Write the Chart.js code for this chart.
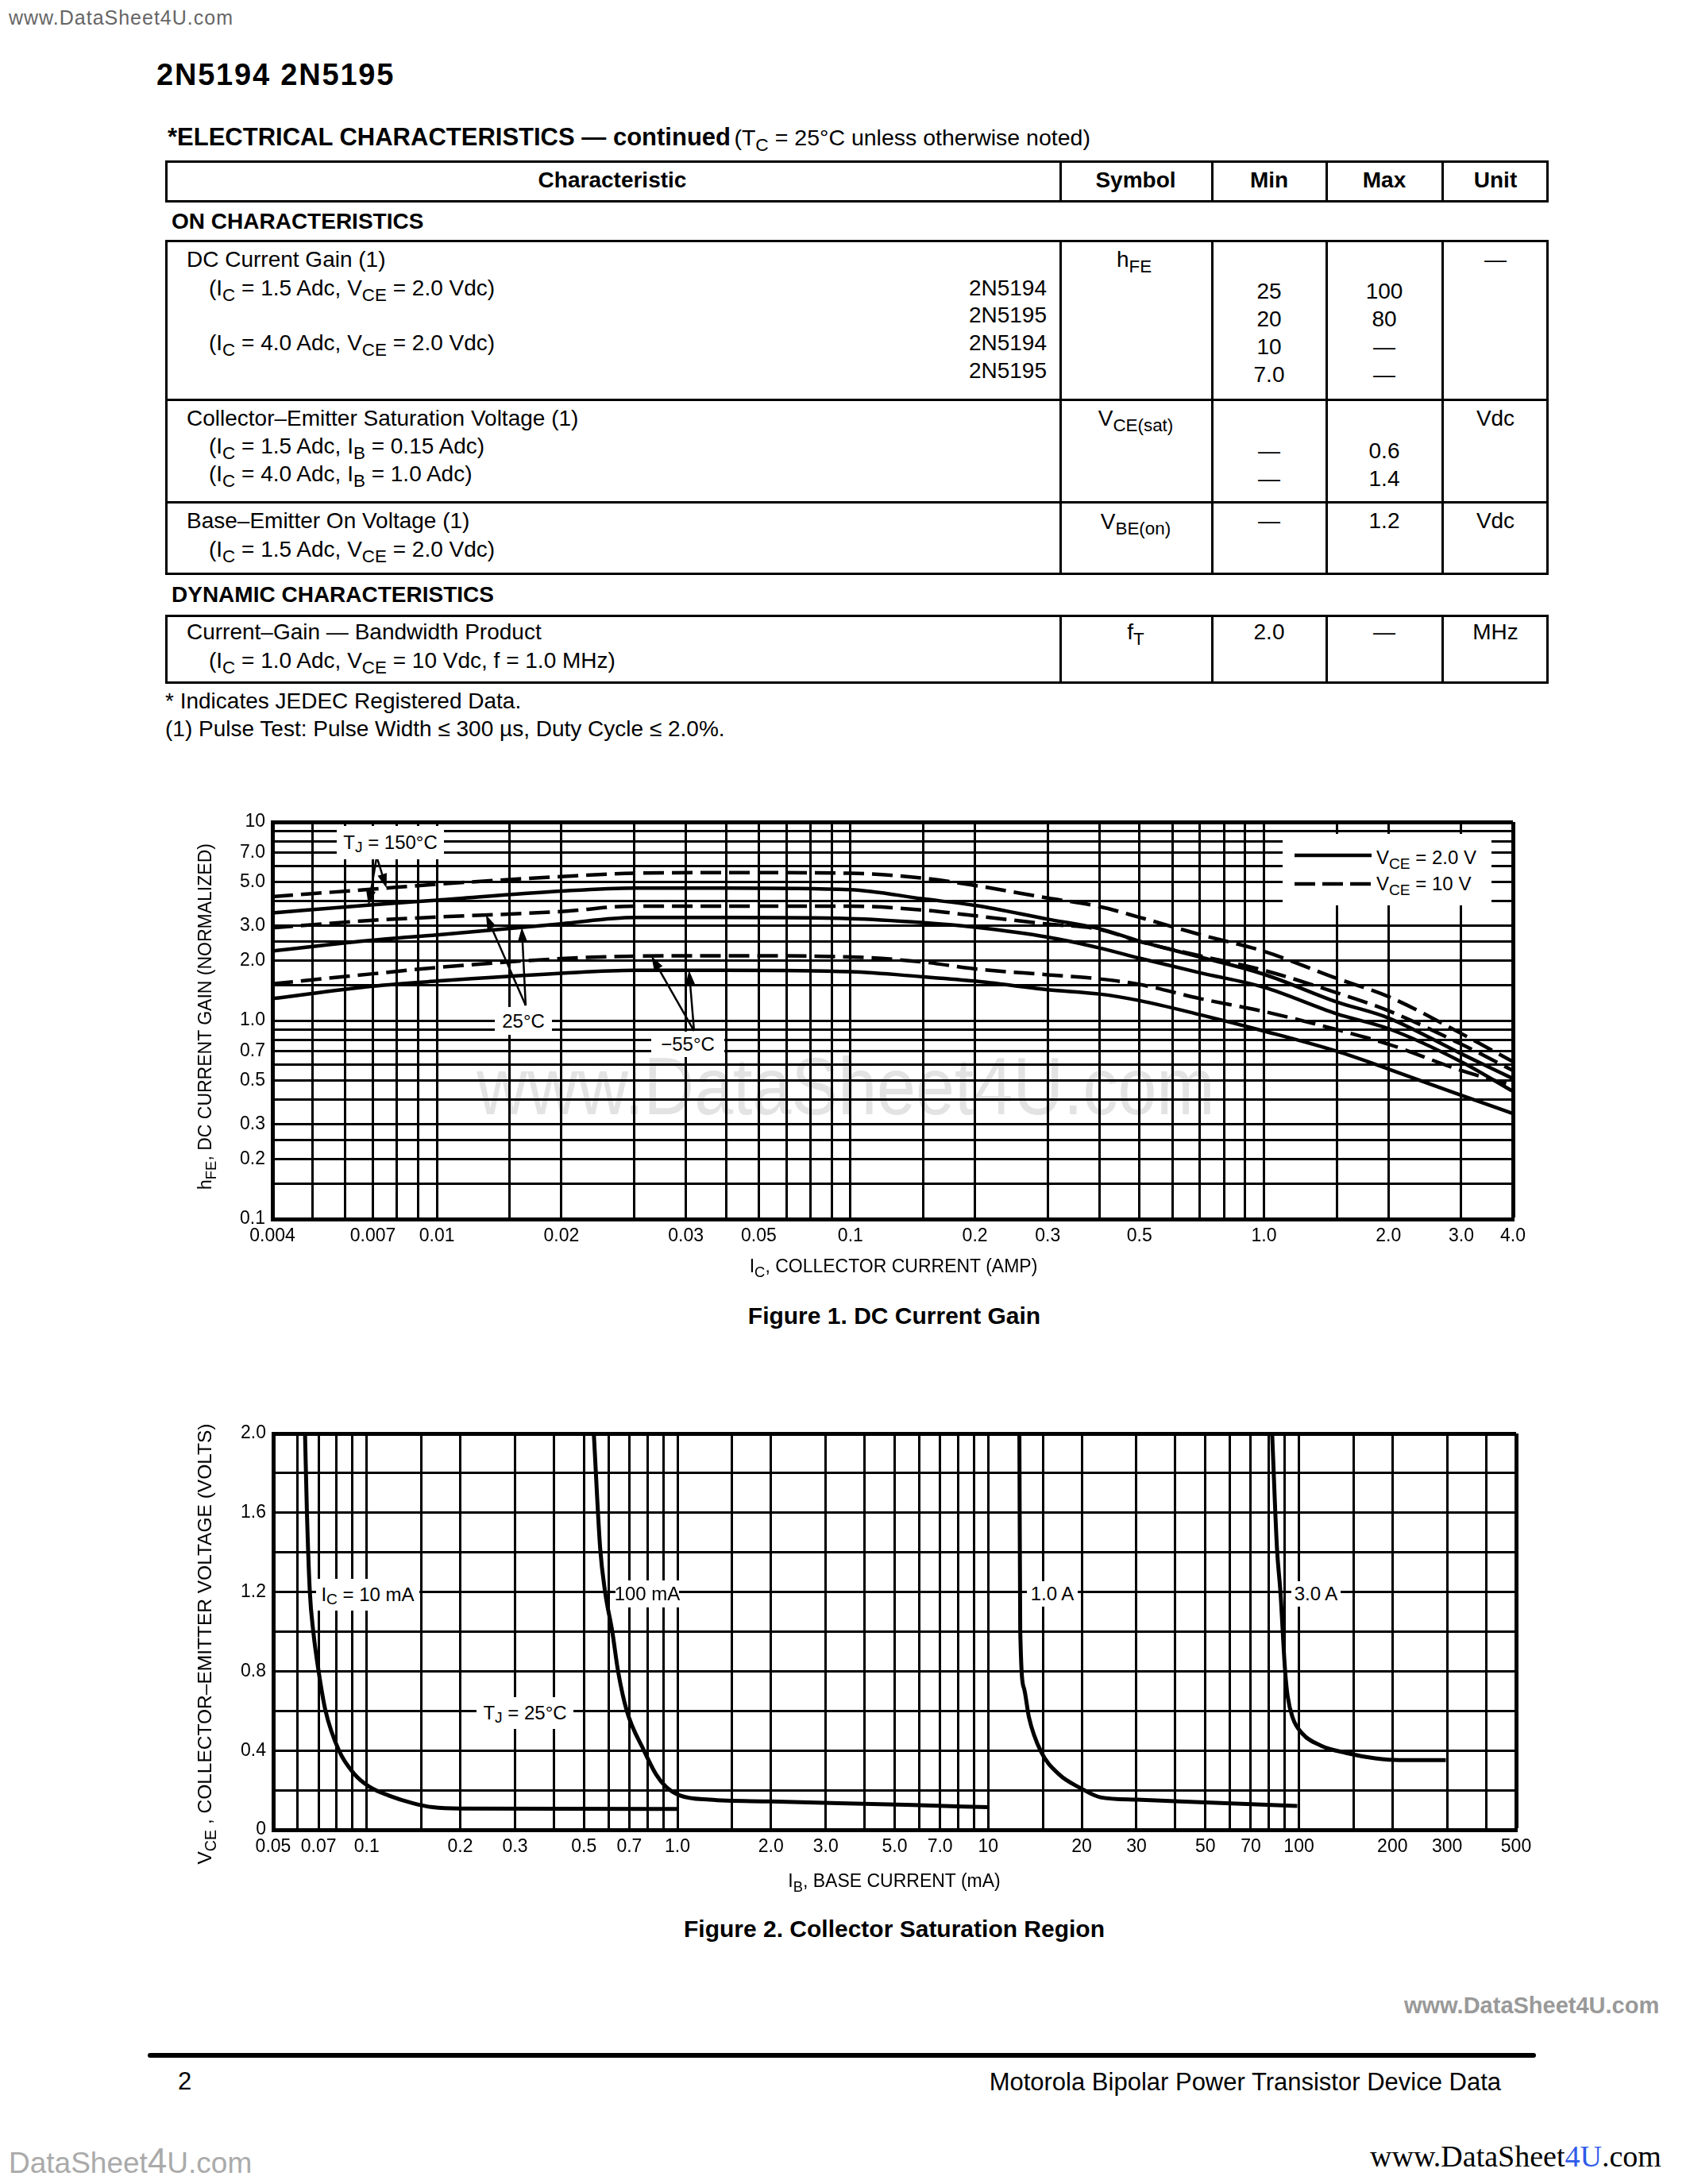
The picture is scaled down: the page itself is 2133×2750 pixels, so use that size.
<!DOCTYPE html>
<html><head><meta charset="utf-8">
<script src="https://cdn.jsdelivr.net/npm/chart.js@4.4.1/dist/chart.umd.min.js"></script>
<style>
html,body{margin:0;padding:0;background:#fff;}
#page{position:relative;width:2133px;height:2750px;overflow:hidden;background:#fff;font-family:'Liberation Sans',Arial,Helvetica,sans-serif;color:#000;}
.t{position:absolute;line-height:1;white-space:nowrap;z-index:3;}
.l{transform:translateY(-50%);}
.c{transform:translate(-50%,-50%);}
.r{transform:translate(-100%,-50%);}
sub{font-size:.8em;position:relative;top:.32em;vertical-align:baseline;line-height:0;}
.b{font-weight:bold;}
.f27{font-size:28px;}
.box{position:absolute;border:3px solid #000;box-sizing:border-box;}
.vl{position:absolute;width:3px;background:#000;}
.hl{position:absolute;height:3px;background:#000;}
canvas{position:absolute;left:0;z-index:1;}
.lab{position:absolute;background:#fff;display:flex;align-items:center;justify-content:center;font-size:24px;line-height:1;white-space:nowrap;z-index:3;}
.ax{position:absolute;font-size:23px;line-height:1;white-space:nowrap;z-index:3;}
.cap{position:absolute;font-size:30px;font-weight:bold;line-height:1;white-space:nowrap;transform:translate(-50%,-50%);z-index:3;}
</style></head>
<body>
<div id="page">
<div class="t l" style="left:11px;top:22px;font-size:25px;color:#666;letter-spacing:1px">www.DataSheet4U.com</div>
<div class="t l b" style="left:197px;top:94px;font-size:38px;letter-spacing:1.8px">2N5194 2N5195</div>
<div class="t l" style="left:211px;top:172px"><span class="b" style="font-size:31px">*ELECTRICAL CHARACTERISTICS — continued</span> <span style="font-size:28.5px">(T<sub>C</sub> = 25°C unless otherwise noted)</span></div>

<!-- table frame -->
<div class="box" style="left:208px;top:202px;width:1742px;height:53px"></div>
<div class="vl" style="left:1334px;top:202px;height:53px"></div>
<div class="vl" style="left:1525px;top:202px;height:53px"></div>
<div class="vl" style="left:1669px;top:202px;height:53px"></div>
<div class="vl" style="left:1815px;top:202px;height:53px"></div>

<div class="box" style="left:208px;top:302px;width:1742px;height:422px"></div>
<div class="hl" style="left:208px;top:502px;width:1742px"></div>
<div class="hl" style="left:208px;top:631px;width:1742px"></div>
<div class="vl" style="left:1334px;top:302px;height:422px"></div>
<div class="vl" style="left:1525px;top:302px;height:422px"></div>
<div class="vl" style="left:1669px;top:302px;height:422px"></div>
<div class="vl" style="left:1815px;top:302px;height:422px"></div>

<div class="box" style="left:208px;top:774px;width:1742px;height:87px"></div>
<div class="vl" style="left:1334px;top:774px;height:87px"></div>
<div class="vl" style="left:1525px;top:774px;height:87px"></div>
<div class="vl" style="left:1669px;top:774px;height:87px"></div>
<div class="vl" style="left:1815px;top:774px;height:87px"></div>

<!-- header -->
<div class="t c b f27" style="left:771px;top:227px">Characteristic</div>
<div class="t c b f27" style="left:1430px;top:227px">Symbol</div>
<div class="t c b f27" style="left:1598px;top:227px">Min</div>
<div class="t c b f27" style="left:1743px;top:227px">Max</div>
<div class="t c b f27" style="left:1883px;top:227px">Unit</div>

<div class="t l b f27" style="left:216px;top:279px">ON CHARACTERISTICS</div>

<div class="t l f27" style="left:235px;top:327px">DC Current Gain (1)</div>
<div class="t l f27" style="left:263px;top:363px">(I<sub>C</sub> = 1.5 Adc, V<sub>CE</sub> = 2.0 Vdc)</div>
<div class="t r f27" style="left:1318px;top:363px">2N5194</div>
<div class="t r f27" style="left:1318px;top:397px">2N5195</div>
<div class="t l f27" style="left:263px;top:432px">(I<sub>C</sub> = 4.0 Adc, V<sub>CE</sub> = 2.0 Vdc)</div>
<div class="t r f27" style="left:1318px;top:432px">2N5194</div>
<div class="t r f27" style="left:1318px;top:467px">2N5195</div>
<div class="t c f27" style="left:1428px;top:327px">h<sub>FE</sub></div>
<div class="t c f27" style="left:1598px;top:367px">25</div>
<div class="t c f27" style="left:1598px;top:402px">20</div>
<div class="t c f27" style="left:1598px;top:437px">10</div>
<div class="t c f27" style="left:1598px;top:472px">7.0</div>
<div class="t c f27" style="left:1743px;top:367px">100</div>
<div class="t c f27" style="left:1743px;top:402px">80</div>
<div class="t c f27" style="left:1743px;top:437px">—</div>
<div class="t c f27" style="left:1743px;top:472px">—</div>
<div class="t c f27" style="left:1883px;top:327px">—</div>

<div class="t l f27" style="left:235px;top:527px">Collector–Emitter Saturation Voltage (1)</div>
<div class="t l f27" style="left:263px;top:562px">(I<sub>C</sub> = 1.5 Adc, I<sub>B</sub> = 0.15 Adc)</div>
<div class="t l f27" style="left:263px;top:597px">(I<sub>C</sub> = 4.0 Adc, I<sub>B</sub> = 1.0 Adc)</div>
<div class="t c f27" style="left:1430px;top:527px">V<sub>CE(sat)</sub></div>
<div class="t c f27" style="left:1598px;top:568px">—</div>
<div class="t c f27" style="left:1598px;top:603px">—</div>
<div class="t c f27" style="left:1743px;top:568px">0.6</div>
<div class="t c f27" style="left:1743px;top:603px">1.4</div>
<div class="t c f27" style="left:1883px;top:527px">Vdc</div>

<div class="t l f27" style="left:235px;top:656px">Base–Emitter On Voltage (1)</div>
<div class="t l f27" style="left:263px;top:692px">(I<sub>C</sub> = 1.5 Adc, V<sub>CE</sub> = 2.0 Vdc)</div>
<div class="t c f27" style="left:1430px;top:657px">V<sub>BE(on)</sub></div>
<div class="t c f27" style="left:1598px;top:656px">—</div>
<div class="t c f27" style="left:1743px;top:656px">1.2</div>
<div class="t c f27" style="left:1883px;top:656px">Vdc</div>

<div class="t l b f27" style="left:216px;top:749px">DYNAMIC CHARACTERISTICS</div>
<div class="t l f27" style="left:235px;top:796px">Current–Gain — Bandwidth Product</div>
<div class="t l f27" style="left:263px;top:832px">(I<sub>C</sub> = 1.0 Adc, V<sub>CE</sub> = 10 Vdc, f = 1.0 MHz)</div>
<div class="t c f27" style="left:1430px;top:796px">f<sub>T</sub></div>
<div class="t c f27" style="left:1598px;top:796px">2.0</div>
<div class="t c f27" style="left:1743px;top:796px">—</div>
<div class="t c f27" style="left:1883px;top:796px">MHz</div>

<div class="t l f27" style="left:208px;top:883px">* Indicates JEDEC Registered Data.</div>
<div class="t l f27" style="left:208px;top:918px">(1) Pulse Test: Pulse Width ≤ 300 µs, Duty Cycle ≤ 2.0%.</div>

<!-- Figure 1 -->
<div style="position:absolute;left:1065px;top:1368px;font-size:88px;color:#e3e3e3;line-height:1;white-space:nowrap;transform:translate(-50%,-50%) scaleY(1.15);z-index:0">www.DataSheet4U.com</div>
<canvas id="c1" width="2133" height="640" style="top:990px;width:2133px;height:640px"></canvas>
<div class="lab" style="left:424px;top:1040px;width:135px;height:42px">T<sub>J</sub>&nbsp;= 150°C</div>
<div class="lab" style="left:623px;top:1268px;width:72px;height:35px">25°C</div>
<div class="lab" style="left:820px;top:1299px;width:92px;height:32px">−55°C</div>
<div class="lab" style="left:1615px;top:1050px;width:263px;height:90px;display:block">
  <svg width="263" height="90" style="position:absolute;left:0;top:0">
    <line x1="15" y1="27" x2="112" y2="27" stroke="#000" stroke-width="4.5"/>
    <line x1="15" y1="63" x2="112" y2="63" stroke="#000" stroke-width="4.5" stroke-dasharray="26 9"/>
  </svg>
  <div style="position:absolute;left:118px;top:30px;transform:translateY(-50%)">V<sub>CE</sub> = 2.0 V</div>
  <div style="position:absolute;left:118px;top:63px;transform:translateY(-50%)">V<sub>CE</sub> = 10 V</div>
</div>
<div class="ax" style="left:258px;top:1280px;transform:translate(-50%,-50%) rotate(-90deg)">h<sub>FE</sub>, DC CURRENT GAIN (NORMALIZED)</div>
<div class="ax" style="left:1125px;top:1594px;transform:translate(-50%,-50%)">I<sub>C</sub>, COLLECTOR CURRENT (AMP)</div>
<div class="cap" style="left:1126px;top:1657px">Figure 1. DC Current Gain</div>

<!-- Figure 2 -->
<canvas id="c2" width="2133" height="640" style="top:1760px;width:2133px;height:640px"></canvas>
<div class="lab" style="left:398px;top:1988px;width:130px;height:40px">I<sub>C</sub>&nbsp;= 10 mA</div>
<div class="lab" style="left:775px;top:1990px;width:80px;height:34px">100 mA</div>
<div class="lab" style="left:600px;top:2137px;width:122px;height:40px">T<sub>J</sub>&nbsp;= 25°C</div>
<div class="lab" style="left:1293px;top:1991px;width:64px;height:32px">1.0 A</div>
<div class="lab" style="left:1626px;top:1991px;width:62px;height:32px">3.0 A</div>
<div class="ax" style="left:258px;top:2070px;font-size:24.5px;transform:translate(-50%,-50%) rotate(-90deg)">V<sub>CE</sub> , COLLECTOR–EMITTER VOLTAGE (VOLTS)</div>
<div class="ax" style="left:1126px;top:2368px;transform:translate(-50%,-50%)">I<sub>B</sub>, BASE CURRENT (mA)</div>
<div class="cap" style="left:1126px;top:2429px">Figure 2. Collector Saturation Region</div>

<!-- footer -->
<div class="t l b" style="left:1768px;top:2525px;font-size:29px;color:#999">www.DataSheet4U.com</div>
<div style="position:absolute;left:186px;top:2585px;width:1748px;height:6px;border-radius:3px;background:#000"></div>
<div class="t l" style="left:224px;top:2620px;font-size:31px">2</div>
<div class="t r" style="left:1890px;top:2621px;font-size:31px">Motorola Bipolar Power Transistor Device Data</div>
<div class="t l" style="left:11px;top:2721px;font-size:37px;color:#aaa">DataSheet<span style="font-size:44px">4</span>U.com</div>
<div class="t l" style="left:1725px;top:2715px;font-size:38px;font-family:'Liberation Serif','Times New Roman',serif">www.DataSheet<span style="color:#2f5bea">4U</span>.com</div>
</div>

<script>
// ---------- Figure 1 data: normalized hFE vs collector current (A) ----------
const icAmp       = [0.004, 0.007, 0.01, 0.02, 0.03, 0.05, 0.1, 0.15, 0.2, 0.3, 0.4, 0.5, 0.7, 1.0, 1.5, 2.0, 3.0, 4.0];
const hfe150C_10V = [4.21, 4.59, 4.86, 5.31, 5.52, 5.56, 5.52, 5.21, 4.79, 4.14, 3.75, 3.31, 2.71, 2.23, 1.63, 1.32, 0.86, 0.62];
const hfe150C_2V  = [3.48, 3.83, 4.04, 4.49, 4.65, 4.65, 4.56, 4.10, 3.80, 3.24, 2.90, 2.51, 2.09, 1.71, 1.24, 1.03, 0.68, 0.51];
const hfe25C_10V  = [2.93, 3.20, 3.32, 3.54, 3.77, 3.77, 3.77, 3.60, 3.37, 3.06, 2.88, 2.50, 2.12, 1.79, 1.38, 1.12, 0.76, 0.56];
const hfe25C_2V   = [2.24, 2.54, 2.70, 3.07, 3.30, 3.30, 3.26, 3.11, 2.95, 2.63, 2.32, 2.06, 1.74, 1.47, 1.08, 0.91, 0.62, 0.44];
const hfeM55C_10V = [1.53, 1.72, 1.85, 2.05, 2.11, 2.12, 2.09, 1.97, 1.82, 1.70, 1.62, 1.52, 1.29, 1.11, 0.90, 0.76, 0.56, 0.47];
const hfeM55C_2V  = [1.29, 1.49, 1.58, 1.73, 1.79, 1.79, 1.76, 1.66, 1.58, 1.43, 1.36, 1.26, 1.07, 0.885, 0.70, 0.57, 0.42, 0.34];

const x1Grid   = [0.004,0.005,0.006,0.007,0.008,0.009,0.01,0.015,0.02,0.03,0.04,0.05,0.06,0.07,0.08,0.09,0.1,0.15,0.2,0.3,0.4,0.5,0.6,0.7,0.8,0.9,1,1.5,2,3,4];
const x1Labels = ['0.004','','','0.007','','','0.01','','0.02','','0.03','','0.05','','','','0.1','','0.2','0.3','','0.5','','','','','1.0','','2.0','3.0','4.0'];
const y1Grid   = [0.1,0.15,0.2,0.25,0.3,0.4,0.5,0.6,0.7,0.8,0.9,1,1.5,2,2.5,3,4,5,6,7,8,9,10];
const y1Labels = ['0.1','','0.2','','0.3','','0.5','','0.7','','','1.0','','2.0','','3.0','','5.0','','7.0','','','10'];

// annotation arrows (label anchor -> point on a curve at given current)
const arrowFrom150 = [0.00715, 6.67];
const arrowFrom25  = [0.01639, 1.19];
const arrowFromM55 = [0.04186, 0.887];

// ---------- Figure 2 data: VCE (V) vs base current (mA) ----------
const ib_10mA  = [0.0633, 0.0642, 0.0656, 0.0673, 0.070, 0.0737, 0.0814, 0.0914, 0.1018, 0.1177, 0.141, 0.163, 0.2, 1.0];
const vce_10mA = [2.0, 1.6, 1.2, 1.0, 0.8, 0.6, 0.4, 0.28, 0.218, 0.173, 0.134, 0.114, 0.107, 0.105];
const ib_100mA  = [0.538, 0.564, 0.585, 0.617, 0.644, 0.687, 0.78, 0.853, 0.917, 1.02, 1.267, 1.99, 5.74, 10.0];
const vce_100mA = [2.0, 1.42, 1.2, 1.0, 0.8, 0.6, 0.4, 0.28, 0.218, 0.173, 0.152, 0.143, 0.125, 0.114];
const ib_1A  = [12.6, 12.68, 13.06, 13.53, 14.76, 16.9, 19.9, 22.97, 30.1, 49.9, 98.8];
const vce_1A = [2.0, 1.01, 0.71, 0.567, 0.397, 0.28, 0.209, 0.164, 0.152, 0.138, 0.12];
const ib_3A  = [82, 85, 87.2, 90.3, 92, 95.4, 102.5, 118, 141.8, 176, 210.8, 297];
const vce_3A = [2.0, 1.42, 1.2, 0.8, 0.674, 0.567, 0.486, 0.424, 0.388, 0.361, 0.352, 0.352];

const x2Grid   = [0.05,0.06,0.07,0.08,0.09,0.1,0.15,0.2,0.3,0.4,0.5,0.6,0.7,0.8,0.9,1,1.5,2,3,4,5,6,7,8,9,10,15,20,30,40,50,60,70,80,90,100,150,200,300,400,500];
const x2Labels = ['0.05','','0.07','','','0.1','','0.2','0.3','','0.5','','0.7','','','1.0','','2.0','3.0','','5.0','','7.0','','','10','','20','30','','50','','70','','','100','','200','300','','500'];
const y2Grid   = [0,0.2,0.4,0.6,0.8,1.0,1.2,1.4,1.6,1.8,2.0];
const y2Labels = ['0','','0.4','','0.8','','1.2','','1.6','','2.0'];

// ---------- helpers ----------
Chart.defaults.font.family = "'Liberation Sans', Arial, Helvetica, sans-serif";
Chart.defaults.font.size = 23;
Chart.defaults.color = '#000';

function pts(xs, ys){ return xs.map((x,i)=>({x:x, y:ys[i]})); }
function curveAt(xs, ys, xv){
  for (let i=0;i<xs.length-1;i++){
    if (xv>=xs[i] && xv<=xs[i+1]){
      const t=(Math.log(xv)-Math.log(xs[i]))/(Math.log(xs[i+1])-Math.log(xs[i]));
      return Math.exp(Math.log(ys[i])+t*(Math.log(ys[i+1])-Math.log(ys[i])));
    }
  }
  return ys[ys.length-1];
}
function line(xs, ys, dashed, w){
  return {data: pts(xs, ys), borderColor:'#000', borderWidth:w, pointRadius:0,
          borderDash: dashed ? [26,10] : [], cubicInterpolationMode:'monotone', fill:false};
}
function axis(type, min, max, grid, labels, pos, fitSize, pad){
  return {
    type:type, position:pos, min:min, max:max,
    afterBuildTicks:(s)=>{ s.ticks = grid.map(v=>({value:v})); },
    afterFit:(s)=>{ if(pos==='left') s.width=fitSize; else s.height=fitSize; },
    ticks:{autoSkip:false, maxRotation:0, minRotation:0, padding:pad, font:{size:23},
           callback:(v,i)=>labels[i]},
    grid:{color:'#000', drawTicks:false,
          lineWidth:(ctx)=> (ctx.index===grid.length-1 ? 5 : 3)},
    border:{display:true, color:'#000', width:5}
  };
}

const arrowPlugin = {
  id:'arrowsPlugin',
  afterDatasetsDraw(chart, args, opts){
    if(!opts.items) return;
    const ctx = chart.ctx, xs = chart.scales.x, ys = chart.scales.y;
    ctx.save();
    ctx.strokeStyle='#000'; ctx.fillStyle='#000'; ctx.lineWidth=2.5;
    opts.items.forEach(a=>{
      const x0=xs.getPixelForValue(a.from[0]), y0=ys.getPixelForValue(a.from[1]);
      const x1=xs.getPixelForValue(a.at), y1=ys.getPixelForValue(curveAt(icAmp, a.curve, a.at));
      const ang=Math.atan2(y1-y0, x1-x0), L=18, H=6;
      const bx=x1-L*Math.cos(ang), by=y1-L*Math.sin(ang);
      ctx.beginPath(); ctx.moveTo(x0,y0); ctx.lineTo(bx,by); ctx.stroke();
      ctx.beginPath(); ctx.moveTo(x1,y1);
      ctx.lineTo(bx+H*Math.sin(ang), by-H*Math.cos(ang));
      ctx.lineTo(bx-H*Math.sin(ang), by+H*Math.cos(ang));
      ctx.closePath(); ctx.fill();
    });
    ctx.restore();
  }
};

new Chart(document.getElementById('c1'), {
  type:'line',
  data:{datasets:[
    line(icAmp, hfe150C_10V, true, 4.5),
    line(icAmp, hfe150C_2V, false, 4.5),
    line(icAmp, hfe25C_10V, true, 4.5),
    line(icAmp, hfe25C_2V, false, 4.5),
    line(icAmp, hfeM55C_10V, true, 4.5),
    line(icAmp, hfeM55C_2V, false, 4.5)
  ]},
  options:{
    responsive:false, animation:false, parsing:true,
    layout:{padding:{left:263, right:228, top:45, bottom:45}},
    scales:{
      x: axis('logarithmic', 0.004, 4, x1Grid, x1Labels, 'bottom', 50, 8),
      y: axis('logarithmic', 0.1, 10, y1Grid, y1Labels, 'left', 80, 9)
    },
    plugins:{legend:{display:false}, tooltip:{enabled:false},
      arrowsPlugin:{items:[
        {from:arrowFrom150, curve:hfe150C_10V, at:0.00755},
        {from:arrowFrom150, curve:hfe150C_2V,  at:0.00683},
        {from:arrowFrom25,  curve:hfe25C_10V,  at:0.01314},
        {from:arrowFrom25,  curve:hfe25C_2V,   at:0.01604},
        {from:arrowFromM55, curve:hfeM55C_10V, at:0.0330},
        {from:arrowFromM55, curve:hfeM55C_2V,  at:0.0407}
      ]}}
  },
  plugins:[arrowPlugin]
});

new Chart(document.getElementById('c2'), {
  type:'line',
  data:{datasets:[
    line(ib_10mA, vce_10mA, false, 5),
    line(ib_100mA, vce_100mA, false, 5),
    line(ib_1A, vce_1A, false, 5),
    line(ib_3A, vce_3A, false, 5)
  ]},
  options:{
    responsive:false, animation:false,
    layout:{padding:{left:264, right:224, top:45, bottom:46}},
    scales:{
      x: axis('logarithmic', 0.05, 500, x2Grid, x2Labels, 'bottom', 50, 8),
      y: axis('linear', 0, 2, y2Grid, y2Labels, 'left', 80, 9)
    },
    plugins:{legend:{display:false}, tooltip:{enabled:false}}
  }
});
</script>
</body></html>
